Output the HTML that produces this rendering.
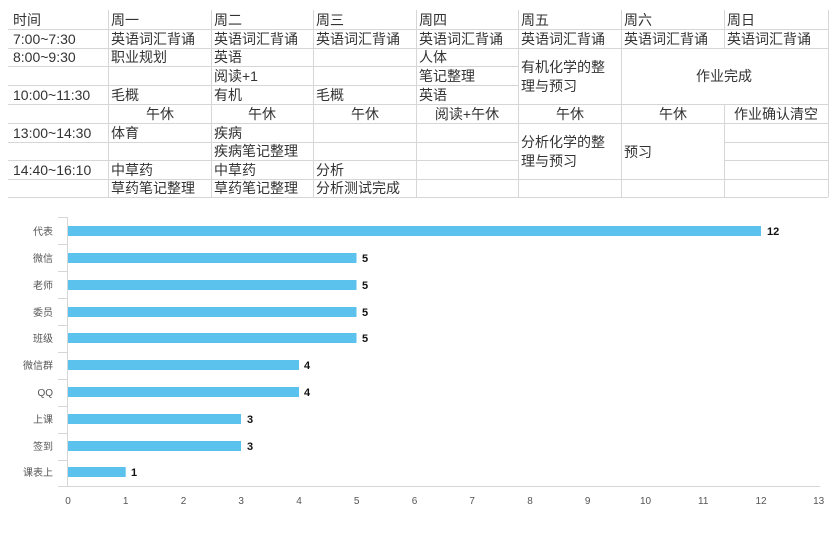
<!DOCTYPE html>
<html><head><meta charset="utf-8"><style>
body{margin:0;background:#fff;width:840px;height:533px;overflow:hidden}
svg{display:block}
.t{font-family:"Liberation Sans","Noto Sans CJK SC",sans-serif;font-size:14px;fill:#333}
.c{font-family:"Liberation Sans","Noto Sans CJK SC",sans-serif;font-size:10px;fill:#555}
.v{font-family:"Liberation Sans",sans-serif;font-size:11px;font-weight:bold;fill:#111}
</style></head><body>
<svg width="840" height="533" xmlns="http://www.w3.org/2000/svg">
<g stroke="#d6d6d6" stroke-width="1">
<line x1="8" y1="29.5" x2="828" y2="29.5"/>
<line x1="8" y1="48.5" x2="828" y2="48.5"/>
<line x1="8" y1="66.5" x2="518" y2="66.5"/>
<line x1="8" y1="85.5" x2="518" y2="85.5"/>
<line x1="8" y1="104.5" x2="828" y2="104.5"/>
<line x1="8" y1="123.5" x2="828" y2="123.5"/>
<line x1="8" y1="142.5" x2="518" y2="142.5"/>
<line x1="724" y1="142.5" x2="828" y2="142.5"/>
<line x1="8" y1="160.5" x2="518" y2="160.5"/>
<line x1="724" y1="160.5" x2="828" y2="160.5"/>
<line x1="8" y1="179.5" x2="828" y2="179.5"/>
<line x1="8" y1="197.5" x2="828" y2="197.5"/>
<line x1="108.5" y1="10" x2="108.5" y2="197"/>
<line x1="211.5" y1="10" x2="211.5" y2="197"/>
<line x1="313.5" y1="10" x2="313.5" y2="197"/>
<line x1="416.5" y1="10" x2="416.5" y2="197"/>
<line x1="518.5" y1="10" x2="518.5" y2="197"/>
<line x1="621.5" y1="10" x2="621.5" y2="197"/>
<line x1="724.5" y1="10" x2="724.5" y2="48"/>
<line x1="724.5" y1="104" x2="724.5" y2="197"/>
<line x1="828.5" y1="10" x2="828.5" y2="197"/>
</g>
<g class="t">
<text x="13" y="25">时间</text><text x="111" y="25">周一</text><text x="214" y="25">周二</text><text x="316" y="25">周三</text><text x="419" y="25">周四</text><text x="521" y="25">周五</text><text x="624" y="25">周六</text><text x="727" y="25">周日</text>
<text x="13" y="44">7:00~7:30</text>
<text x="111" y="44">英语词汇背诵</text><text x="214" y="44">英语词汇背诵</text><text x="316" y="44">英语词汇背诵</text><text x="419" y="44">英语词汇背诵</text><text x="521" y="44">英语词汇背诵</text><text x="624" y="44">英语词汇背诵</text><text x="727" y="44">英语词汇背诵</text>
<text x="13" y="62">8:00~9:30</text><text x="111" y="62">职业规划</text><text x="214" y="62">英语</text><text x="419" y="62">人体</text>
<text x="214" y="81">阅读+1</text><text x="419" y="81">笔记整理</text>
<text x="521" y="72">有机化学的整</text><text x="521" y="91">理与预习</text>
<text x="724" y="81" text-anchor="middle">作业完成</text>
<text x="13" y="100">10:00~11:30</text><text x="111" y="100">毛概</text><text x="214" y="100">有机</text><text x="316" y="100">毛概</text><text x="419" y="100">英语</text>
<text x="160" y="119" text-anchor="middle">午休</text><text x="262" y="119" text-anchor="middle">午休</text><text x="365" y="119" text-anchor="middle">午休</text><text x="467" y="119" text-anchor="middle">阅读+午休</text><text x="570" y="119" text-anchor="middle">午休</text><text x="673" y="119" text-anchor="middle">午休</text><text x="776" y="119" text-anchor="middle">作业确认清空</text>
<text x="13" y="138">13:00~14:30</text><text x="111" y="138">体育</text><text x="214" y="138">疾病</text>
<text x="214" y="156">疾病笔记整理</text>
<text x="521" y="147">分析化学的整</text><text x="521" y="166">理与预习</text>
<text x="624" y="157">预习</text>
<text x="13" y="175">14:40~16:10</text><text x="111" y="175">中草药</text><text x="214" y="175">中草药</text><text x="316" y="175">分析</text>
<text x="111" y="193">草药笔记整理</text><text x="214" y="193">草药笔记整理</text><text x="316" y="193">分析测试完成</text>
</g>
<g stroke="#d6d6d6" stroke-width="1">
<line x1="67.5" y1="217" x2="67.5" y2="486"/>
<line x1="58" y1="486.5" x2="820" y2="486.5"/>
<line x1="58" y1="217.5" x2="67" y2="217.5"/>
<line x1="58" y1="244.5" x2="67" y2="244.5"/>
<line x1="58" y1="271.5" x2="67" y2="271.5"/>
<line x1="58" y1="298.5" x2="67" y2="298.5"/>
<line x1="58" y1="325.5" x2="67" y2="325.5"/>
<line x1="58" y1="352.5" x2="67" y2="352.5"/>
<line x1="58" y1="379.5" x2="67" y2="379.5"/>
<line x1="58" y1="406.5" x2="67" y2="406.5"/>
<line x1="58" y1="433.5" x2="67" y2="433.5"/>
<line x1="58" y1="460.5" x2="67" y2="460.5"/>
</g>
<g fill="#5bc2ee">
<rect x="68" y="226" width="693" height="10"/>
<rect x="68" y="253" width="288.5" height="10"/>
<rect x="68" y="280" width="288.5" height="10"/>
<rect x="68" y="307" width="288.5" height="10"/>
<rect x="68" y="333" width="288.5" height="10"/>
<rect x="68" y="360" width="231" height="10"/>
<rect x="68" y="387" width="231" height="10"/>
<rect x="68" y="414" width="173" height="10"/>
<rect x="68" y="441" width="173" height="10"/>
<rect x="68" y="467" width="57.7" height="10"/>
</g>
<g class="c" text-anchor="end">
<text x="53" y="235">代表</text><text x="53" y="262">微信</text><text x="53" y="289">老师</text><text x="53" y="316">委员</text><text x="53" y="342">班级</text><text x="53" y="369">微信群</text><text x="53" y="396">QQ</text><text x="53" y="423">上课</text><text x="53" y="450">签到</text><text x="53" y="476">课表上</text>
</g>
<g class="v">
<text x="767" y="235">12</text><text x="362" y="262">5</text><text x="362" y="289">5</text><text x="362" y="316">5</text><text x="362" y="342">5</text><text x="304" y="369">4</text><text x="304" y="396">4</text><text x="247" y="423">3</text><text x="247" y="450">3</text><text x="131" y="476">1</text>
</g>
<g class="c" text-anchor="middle">
<text x="68" y="504">0</text><text x="125.7" y="504">1</text><text x="183.5" y="504">2</text><text x="241.2" y="504">3</text><text x="299" y="504">4</text><text x="356.7" y="504">5</text><text x="414.5" y="504">6</text><text x="472.2" y="504">7</text><text x="530" y="504">8</text><text x="587.7" y="504">9</text><text x="645.5" y="504">10</text><text x="703.2" y="504">11</text><text x="761" y="504">12</text><text x="818.7" y="504">13</text>
</g>
</svg>
</body></html>
